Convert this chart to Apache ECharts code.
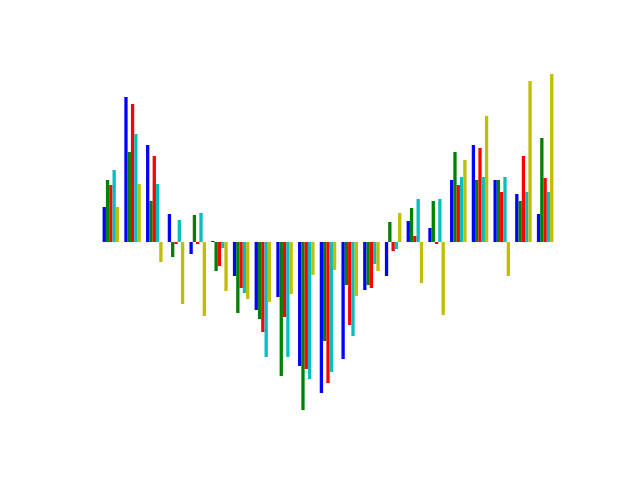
<!DOCTYPE html>
<html>
<head>
<meta charset="utf-8">
<script src="https://cdn.jsdelivr.net/npm/echarts@6/dist/echarts.min.js"></script>
<style>html,body{margin:0;padding:0;background:#fff;}#c{width:640px;height:480px;}</style>
</head>
<body>
<div id="c"></div>
<script>
var categories = ['1','2','3','4','5','6','7','8','9','10','11','12','13','14','15','16','17','18','19','20','21'];
var blueValues   = [35,145,97,28,-12,1,-34,-68,-55,-124,-151,-117,-48,-34,21,14,62,97,62,48,28];
var greenValues  = [62,90,41,-15,27,-29,-71,-77,-134,-168,-99,-43,-43,20,34,41,90,62,62,41,104];
var redValues    = [57,138,86,-2,-2,-24,-46,-90,-75,-127,-141,-83,-46,-9,6,-2,57,94,50,86,64];
var cyanValues   = [72,108,58,22,29,-6,-51,-115,-115,-137,-130,-94,-22,-7,43,43,65,65,65,50,50];
var yellowValues = [35,58,-20,-62,-74,-49,-57,-60,-52,-33,-28,-54,-29,29,-41,-73,82,126,-34,161,168];

var seriesDefs = [
  {data: blueValues, color: '#0000ff'},
  {data: greenValues, color: '#008000'},
  {data: redValues, color: '#ff0000'},
  {data: cyanValues, color: '#00bfbf'},
  {data: yellowValues, color: '#bfbf00'}
];

var chart = echarts.init(document.getElementById('c'), null, {renderer: 'canvas'});
chart.setOption({
  animation: false,
  backgroundColor: '#ffffff',
  grid: {left: 100, right: 84, top: 58, bottom: 53, containLabel: false},
  xAxis: {
    type: 'category', data: categories, show: false,
    axisLine: {show: false}, axisTick: {show: false}, axisLabel: {show: false}
  },
  yAxis: {
    type: 'value', min: -185, max: 184, show: false,
    splitLine: {show: false}
  },
  series: seriesDefs.map(function (s) {
    return {
      type: 'bar', data: s.data, barWidth: 3.3, barGap: '0%',
      itemStyle: {color: s.color}
    };
  })
});
</script>
</body>
</html>
